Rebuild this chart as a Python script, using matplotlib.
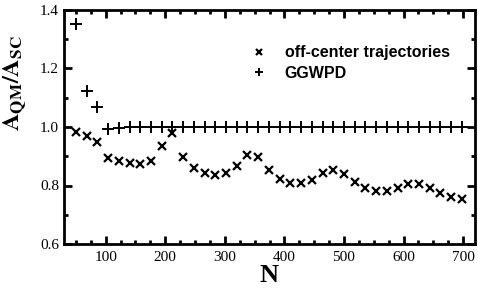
import numpy as np
import matplotlib

matplotlib.use("Agg")
import matplotlib.pyplot as plt
from matplotlib.ticker import MultipleLocator, FormatStrFormatter

plt.rcParams["mathtext.fontset"] = "stix"

# data
n_vals = [50, 68, 86, 104, 122, 140, 158, 176, 194, 212, 230, 248, 266,
          284, 302, 320, 338, 356, 374, 392, 410, 428, 446, 464, 482, 500,
          518, 536, 554, 572, 590, 608, 626, 644, 662, 680, 698]
off_center = [0.984, 0.968, 0.950, 0.893, 0.883, 0.876, 0.872, 0.883, 0.935,
              0.978, 0.899, 0.859, 0.842, 0.837, 0.842, 0.867, 0.905, 0.899,
              0.853, 0.822, 0.809, 0.809, 0.819, 0.842, 0.853, 0.839, 0.811,
              0.790, 0.781, 0.781, 0.793, 0.805, 0.805, 0.793, 0.773, 0.760,
              0.754]
ggwpd = [1.352, 1.123, 1.068, 0.993, 0.996] + [1.0] * 32

serif = ["Liberation Serif", "DejaVu Serif"]
sans = ["Liberation Sans", "DejaVu Sans"]

fig = plt.figure(figsize=(4.78, 2.97), dpi=100)
ax = fig.add_axes([64 / 478, 1 - 244 / 297, 411 / 478, 234 / 297])

ax.plot(n_vals, off_center, "kx", ms=6, mew=1.6, linestyle="none",
        label="off-center trajectories")
ax.plot(n_vals, ggwpd, "k+", ms=8, mew=1.4, linestyle="none", label="GGWPD")

ax.set_xlim(30, 720)
ax.set_ylim(0.6, 1.4)
ax.xaxis.set_major_locator(MultipleLocator(100))
ax.xaxis.set_minor_locator(MultipleLocator(25))
ax.yaxis.set_major_locator(MultipleLocator(0.2))
ax.yaxis.set_minor_locator(MultipleLocator(0.1))
ax.yaxis.set_major_formatter(FormatStrFormatter("%.1f"))

for s in ax.spines.values():
    s.set_linewidth(2)
ax.tick_params(which="both", direction="in", top=True, right=True, width=2)
ax.tick_params(which="major", length=6, labelsize=11)
ax.tick_params(which="minor", length=3)
for lab in ax.get_xticklabels() + ax.get_yticklabels():
    lab.set_family(serif)
ax.tick_params(axis="x", pad=5)

ax.set_xlabel("N", family=serif, fontweight="bold", fontsize=19, labelpad=0)
ax.set_ylabel(r"$\mathbf{A}_{\mathbf{QM}}\mathbf{/A}_{\mathbf{SC}}$",
              fontsize=17.5)
ax.yaxis.set_label_coords(-0.085, 0.69)

leg = ax.legend(loc="upper left", bbox_to_anchor=(0.42, 0.91), frameon=False,
                prop={"family": sans, "weight": "bold", "size": 11.5},
                markerscale=0.75, handlelength=1.0, handletextpad=1.1,
                labelspacing=0.35)

fig.savefig("out.png", dpi=100)
